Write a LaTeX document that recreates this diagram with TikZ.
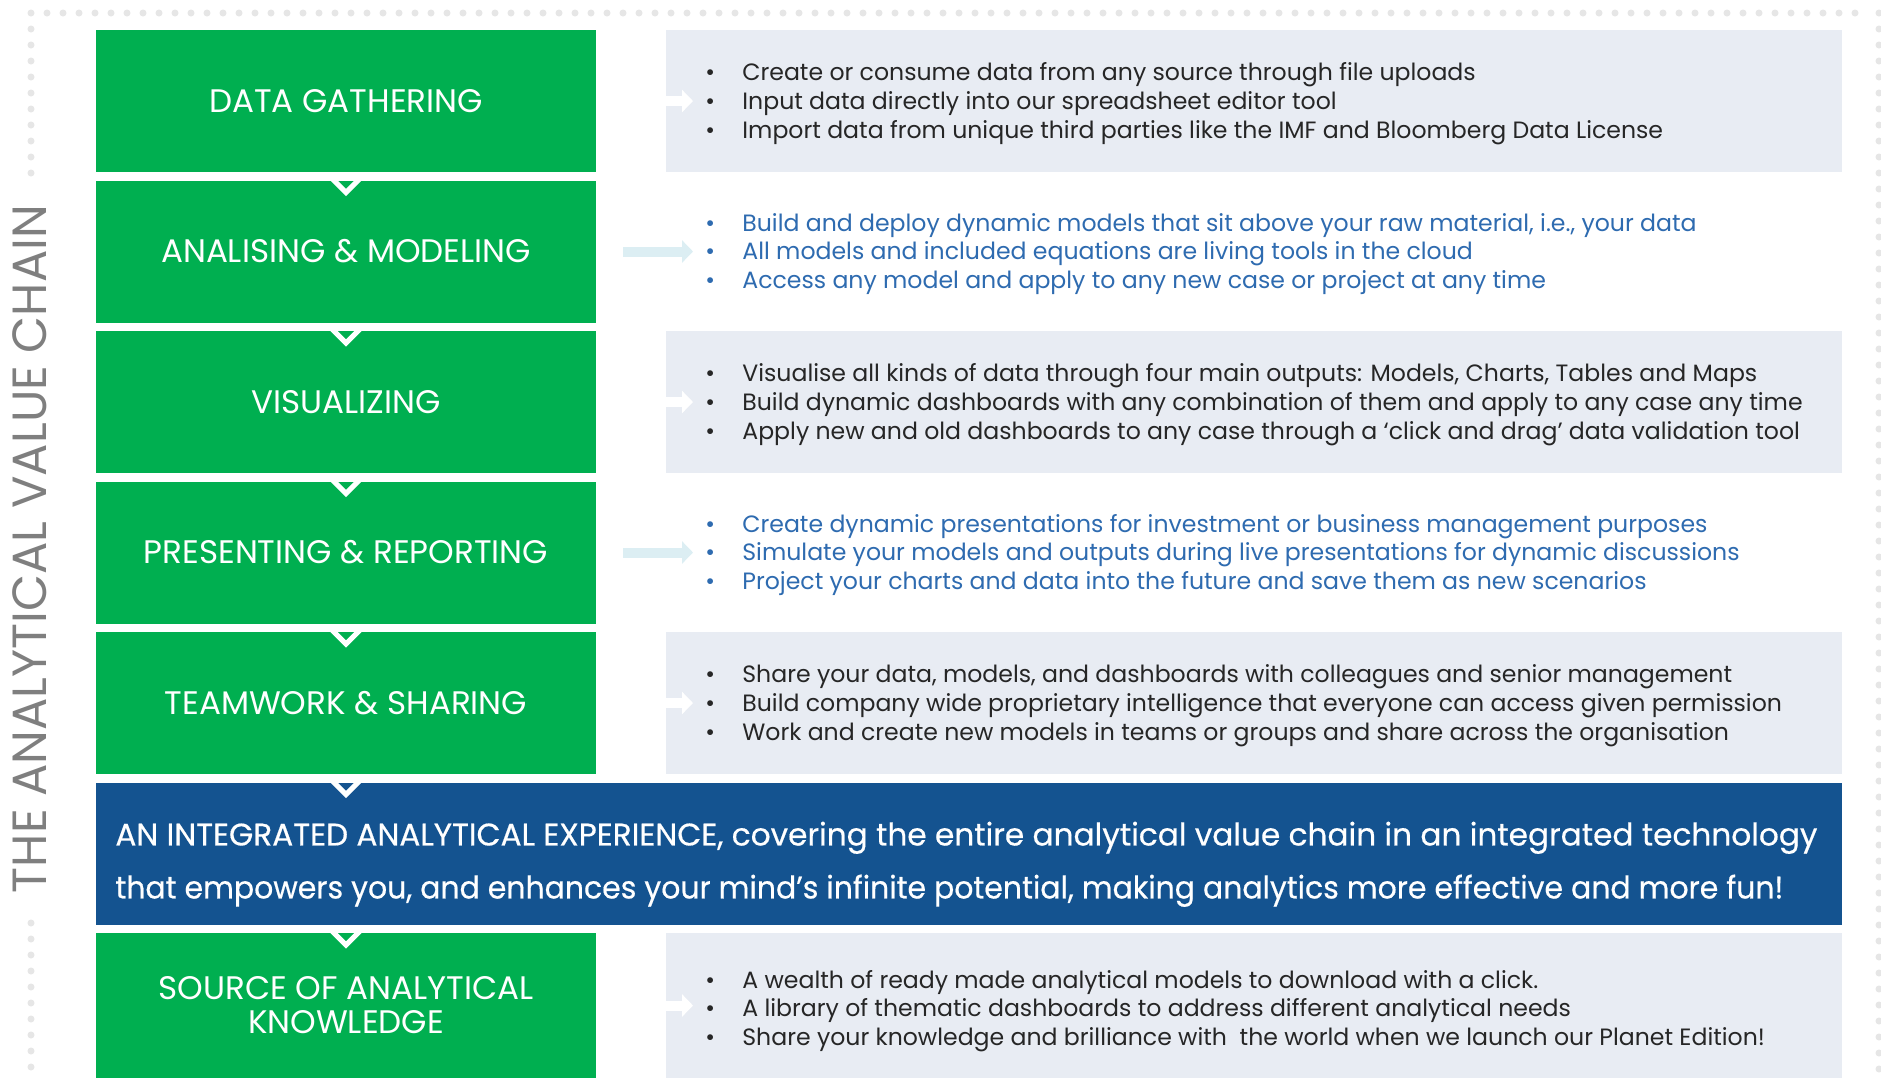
\documentclass[tikz,border=0pt]{standalone}
\usepackage{graphicx}
\usepackage{fontspec}
\setmainfont{Poppins}
\newfontfamily\pmed{Poppins}[FakeBold=0.5]
\usetikzlibrary{arrows.meta}
\definecolor{gr}{HTML}{00AF50}
\definecolor{nv}{HTML}{145390}
\definecolor{lg}{HTML}{E8ECF3}
\definecolor{bt}{HTML}{2E6BB0}
\definecolor{dk}{HTML}{262626}
\definecolor{ar}{HTML}{DCEEF3}
\definecolor{dt}{HTML}{E6E6E6}
\definecolor{tg}{HTML}{7F7F7F}
\newcommand{\blt}{\makebox[18.5pt][l]{•}}
\tikzset{
  gbox/.style={fill=gr, text=white, minimum width=250pt, minimum height=71pt, inner sep=0pt, outer sep=0pt, anchor=north west, align=center, font=\fontsize{16.3}{17}\selectfont},
  tbox/.style={fill=lg, minimum width=588pt, minimum height=71pt, inner sep=0pt, outer sep=0pt, anchor=north west},
  items/.style={anchor=west, inner sep=0pt, align=left, font=\fontsize{11.8}{14.4}\selectfont},
  chev/.style={draw=white, line width=2.5pt},
  arrw/.style={line width=5pt, -{Triangle[length=5.5pt,width=11pt]}},
}
\begin{document}
\begin{tikzpicture}[x=0.5pt,y=-0.5pt]
\useasboundingbox (0,0) rectangle (1881,1078);
\fill[white] (0,0) rectangle (1881,1078);
% dotted frame
\foreach \x in {31,47,...,1870} \fill[dt] (\x,13) circle (1.75pt);
\foreach \y in {13,29,...,1078} \fill[dt] (1879,\y) circle (1.75pt);
\foreach \y in {29,45,...,175} \fill[dt] (31,\y) circle (1.75pt);
\foreach \y in {923,939,...,1078} \fill[dt] (31,\y) circle (1.75pt);
% title
\node[rotate=90, text=tg, inner sep=0pt, font=\fontsize{24}{26}\selectfont] (title) at (30,549) {THE ANALYTICAL VALUE CHAIN};
% green boxes
\node[gbox] (g0) at (96,30) {DATA GATHERING};
\node[gbox] (g1) at (96,180.5) {ANALISING \& MODELING};
\node[gbox] (g2) at (96,331) {VISUALIZING};
\node[gbox] (g3) at (96,481.5) {PRESENTING \& REPORTING};
\node[gbox] (g4) at (96,632) {TEAMWORK \& SHARING};
\node[gbox, fill=nv, minimum width=873pt] (g5) at (96,782.5) {};
\node[gbox, minimum height=72.5pt] (g6) at (96,933) {SOURCE OF ANALYTICAL\\KNOWLEDGE};
% blue box text
\node[anchor=west, inner sep=0pt, text=white, align=left, font=\pmed\fontsize{15.6}{26.5}\selectfont] (bt) at ([xshift=9.5pt,yshift=-5.4pt]g5.west) {\resizebox{851pt}{\height}{AN INTEGRATED ANALYTICAL EXPERIENCE, covering the entire analytical value chain in an integrated technology}\\\resizebox{834pt}{\height}{that empowers you, and enhances your mind’s infinite potential, making analytics more effective and more fun!}};
% chevrons
\foreach \a/\b in {g0/g1,g1/g2,g2/g3,g3/g4,g4/g5,g5/g6}{
  \coordinate (c\b) at (g0.south |- \b.north);
  \draw[chev] ([xshift=-7.5pt,yshift=1.5pt]c\b) -- ([yshift=-6pt]c\b) -- ([xshift=7.5pt,yshift=1.5pt]c\b);
}
% text boxes
\node[tbox] (t0) at ([xshift=35pt]g0.north east) {};
\node[tbox] (t2) at ([xshift=35pt]g2.north east) {};
\node[tbox] (t4) at ([xshift=35pt]g4.north east) {};
\node[tbox, minimum height=72.5pt] (t6) at ([xshift=35pt]g6.north east) {};
% arrows
\foreach \g in {g0,g2,g4,g6}
  \draw[arrw, white] ([xshift=13.5pt]\g.east) -- ([xshift=48.5pt]\g.east);
\foreach \g in {g1,g3}
  \draw[arrw, ar] ([xshift=13.5pt]\g.east) -- ([xshift=48.5pt]\g.east);
% items
\node[items, text=dk] (l0) at ([xshift=54.5pt,yshift=-1.2pt]g0.east) {\blt Create or consume data from any source through file uploads\\\blt Input data directly into our spreadsheet editor tool\\\blt Import data from unique third parties like the IMF and Bloomberg Data License};
\node[items, text=bt] (l1) at ([xshift=54.5pt,yshift=-1.2pt]g1.east) {\blt Build and deploy dynamic models that sit above your raw material, i.e., your data\\\blt All models and included equations are living tools in the cloud\\\blt Access any model and apply to any new case or project at any time};
\node[items, text=dk] (l2) at ([xshift=54.5pt,yshift=-1.2pt]g2.east) {\blt Visualise all kinds of data through four main outputs: Models, Charts, Tables and Maps\\\blt Build dynamic dashboards with any combination of them and apply to any case any time\\\blt Apply new and old dashboards to any case through a ‘click and drag’ data validation tool};
\node[items, text=bt] (l3) at ([xshift=54.5pt,yshift=-1.2pt]g3.east) {\blt Create dynamic presentations for investment or business management purposes\\\blt Simulate your models and outputs during live presentations for dynamic discussions\\\blt Project your charts and data into the future and save them as new scenarios};
\node[items, text=dk] (l4) at ([xshift=54.5pt,yshift=-1.2pt]g4.east) {\blt Share your data, models, and dashboards with colleagues and senior management\\\blt Build company wide proprietary intelligence that everyone can access given permission\\\blt Work and create new models in teams or groups and share across the organisation};
\node[items, text=dk] (l6) at ([xshift=54.5pt,yshift=-2.8pt]g6.east) {\blt A wealth of ready made analytical models to download with a click.\\\blt A library of thematic dashboards to address different analytical needs\\\blt Share your knowledge and brilliance with\ \ the world when we launch our Planet Edition!};
\end{tikzpicture}
\end{document}
